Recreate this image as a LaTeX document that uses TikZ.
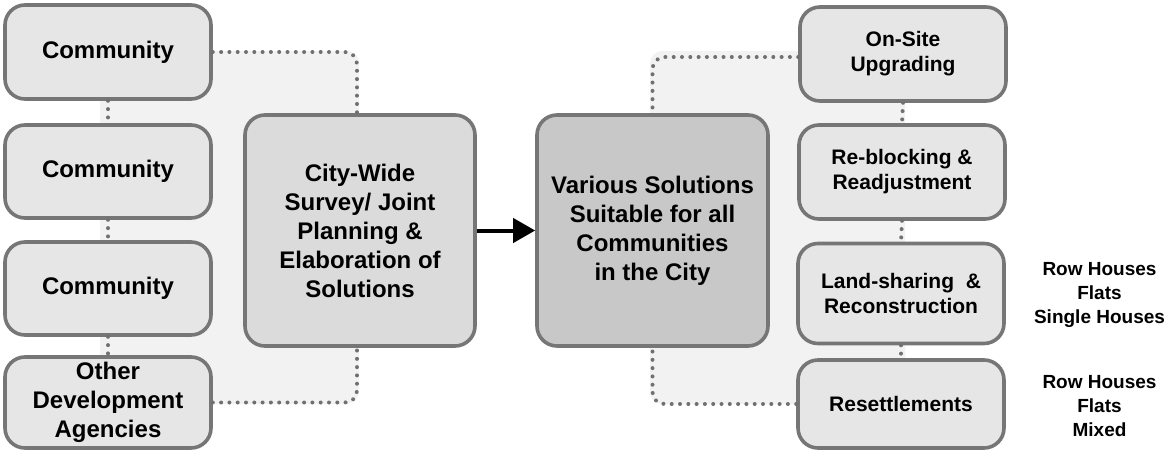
\documentclass[tikz,border=0pt]{standalone}
\usepackage{fontspec}
\setmainfont{Liberation Sans}
\usetikzlibrary{arrows.meta}
\definecolor{boxfill}{HTML}{E6E6E6}
\definecolor{cwfill}{HTML}{DBDBDB}
\definecolor{vsfill}{HTML}{C8C8C8}
\definecolor{edge}{HTML}{767676}
\definecolor{bgfill}{HTML}{F2F2F2}
\definecolor{dotc}{HTML}{707070}
\tikzset{
  box/.style={draw=edge, line width=3.6pt, rounded corners=20pt, fill=boxfill, align=center, inner sep=0pt, font=\bfseries\fontsize{24}{29}\selectfont},
  rbox/.style={box, font=\bfseries\fontsize{21}{25}\selectfont},
  bigbox/.style={box, fill=cwfill, minimum width=230pt, minimum height=231pt},
  dotline/.style={draw=dotc, line width=4pt, line cap=round, dash pattern=on 0pt off 8.3pt, rounded corners=12pt},
  lbl/.style={align=center, inner sep=0pt, font=\bfseries\fontsize{19}{24}\selectfont},
  arr/.style={line width=4pt, -{Triangle[length=22pt,width=24pt]}}
}
\begin{document}
\begin{tikzpicture}[x=1pt,y=-1pt]
\useasboundingbox (0,0) rectangle (1168,450);
% background panels
\fill[bgfill, rounded corners=12pt] (100,51) rectangle (359,404);
\fill[bgfill, rounded corners=12pt] (650,51) rectangle (905,404);
% left column
\node[box, minimum width=206pt, minimum height=94pt] (c1) at (108,52) {Community};
\node[box, minimum width=206pt, minimum height=93pt] (c2) at (108,171.5) {Community};
\node[box, minimum width=206pt, minimum height=93pt] (c3) at (108,288.5) {Community};
\node[box, minimum width=206pt, minimum height=91pt] (c4) at (108,402.5) {Other\\Development\\Agencies};
% centre boxes
\node[bigbox] (cw) at (360,230.5) {City-Wide\\Survey/ Joint\\Planning \&\\Elaboration of\\Solutions};
\node[bigbox, fill=vsfill, minimum width=231pt] (vs) at (652.5,230.5) {Various Solutions\\Suitable for all\\Communities\\in the City};
% right column
\node[rbox, minimum width=206pt, minimum height=94pt] (r1) at (903,54) {On-Site\\Upgrading};
\node[rbox, minimum width=206pt, minimum height=94pt] (r2) at (902,172) {Re-blocking \&\\Readjustment};
\node[rbox, minimum width=206pt, minimum height=100pt] (r3) at (901,293.5) {Land-sharing~~\&\\Reconstruction};
\node[rbox, minimum width=206pt, minimum height=88pt] (r4) at (901,404) {Resettlements};
% labels
\node[lbl] (l1) at (1099.5,295) {Row Houses\\Flats\\Single Houses};
\node[lbl] (l2) at (1099.5,406) {Row Houses\\Flats\\Mixed};
% dotted connectors
\draw[dotline] (c1.south) -- (c2.north);
\draw[dotline] (c2.south) -- (c3.north);
\draw[dotline] (c3.south) -- (c4.north);
\draw[dotline] (r1.south) -- (r2.north);
\draw[dotline] (r2.south) -- (r3.north);
\draw[dotline] (r3.south) -- (r4.north);
\draw[dotline] (c1.east) -| ([xshift=-3pt]cw.north);
\draw[dotline] (c4.east) -| ([xshift=-3pt]cw.south);
\draw[dotline] ([yshift=-3pt]r1.west) -| (vs.north);
\draw[dotline] (r4.west) -| (vs.south);
% arrow
\draw[arr] (cw.east) -- (vs.west);
\end{tikzpicture}
\end{document}
